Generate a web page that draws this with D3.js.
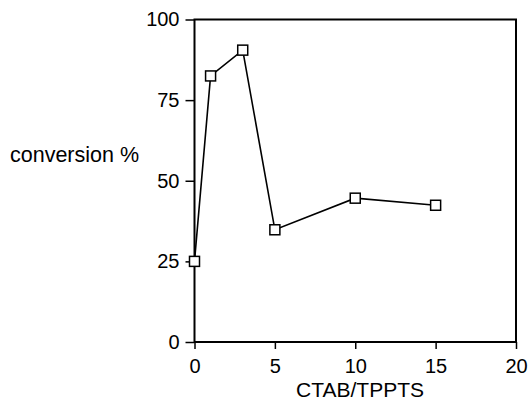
<!DOCTYPE html>
<html>
<head>
<meta charset="utf-8">
<script src="https://cdn.jsdelivr.net/npm/d3@7"></script>
<style>
  body { margin: 0; background: #fff; }
  svg text { font-family: "Liberation Sans", Arial, sans-serif; fill: #000; }
</style>
</head>
<body>
<div id="chart"></div>
<script>
// data
var ratio = [0, 1, 3, 5, 10, 15];
var conversion = [25, 82.5, 90.5, 34.8, 44.6, 42.4];
var xTicks = [0, 5, 10, 15, 20];
var yTicks = [0, 25, 50, 75, 100];

var W = 529, H = 402;
var margin = { top: 19.5, right: 13, bottom: 60, left: 194.5 },
  width = W - margin.left - margin.right,
  height = H - margin.top - margin.bottom;

var svg = d3.select("#chart")
  .append("svg")
  .attr("width", W)
  .attr("height", H)
  .append("g")
  .attr("transform", "translate(" + margin.left + "," + margin.top + ")");

var x = d3.scaleLinear().domain([0, 20]).range([0, width]);
var y = d3.scaleLinear().domain([0, 100]).range([height, 0]);

// frame
svg.append("rect")
  .attr("x", 0).attr("y", 0)
  .attr("width", width).attr("height", height)
  .attr("fill", "none")
  .attr("stroke", "#000")
  .attr("stroke-width", 2);

// X axis
var xAxis = svg.append("g")
  .attr("transform", "translate(0," + height + ")")
  .call(d3.axisBottom(x).tickValues(xTicks).tickSize(7).tickPadding(10));
xAxis.select(".domain").remove();
xAxis.selectAll("line").attr("stroke-width", 1.5);
xAxis.selectAll("text").style("font-size", "20px");

// Y axis
var yAxis = svg.append("g")
  .call(d3.axisLeft(y).tickValues(yTicks).tickSize(9).tickPadding(6));
yAxis.select(".domain").remove();
yAxis.selectAll("line").attr("stroke-width", 1.5);
yAxis.selectAll("text").style("font-size", "20px");

// axis titles
svg.append("text")
  .attr("x", 360 - margin.left)
  .attr("y", 397 - margin.top)
  .attr("text-anchor", "middle")
  .style("font-size", "21px")
  .text("CTAB/TPPTS");

svg.append("text")
  .attr("x", 10 - margin.left)
  .attr("y", 162 - margin.top)
  .style("font-size", "21.5px")
  .text("conversion %");

var pts = ratio.map(function (d, i) { return [d, conversion[i]]; });

// line
svg.append("path")
  .datum(pts)
  .attr("fill", "none")
  .attr("stroke", "#000")
  .attr("stroke-width", 1.6)
  .attr("d", d3.line()
    .x(function (d) { return x(d[0]); })
    .y(function (d) { return y(d[1]); }));

// square markers
var s = 10;
svg.append("g")
  .selectAll("rect")
  .data(pts)
  .enter()
  .append("rect")
  .attr("x", function (d) { return x(d[0]) - s / 2; })
  .attr("y", function (d) { return y(d[1]) - s / 2; })
  .attr("width", s)
  .attr("height", s)
  .attr("fill", "#fff")
  .attr("stroke", "#000")
  .attr("stroke-width", 1.5);
</script>
</body>
</html>
